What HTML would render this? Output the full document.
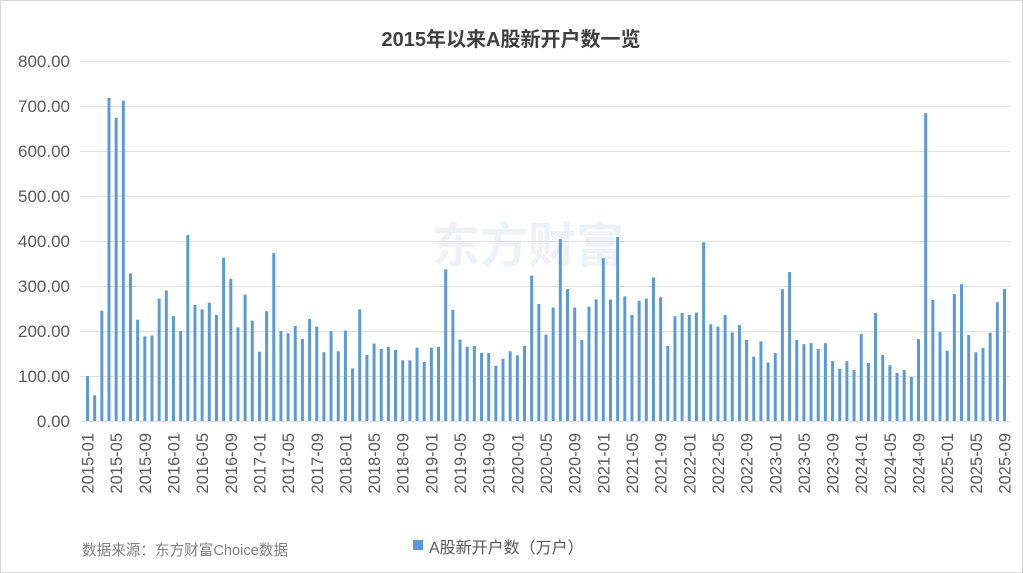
<!DOCTYPE html>
<html><head><meta charset="utf-8"><style>
html,body{margin:0;padding:0;background:#fff;}
svg{display:block;font-family:"Liberation Sans","Noto Sans CJK SC",sans-serif;}
</style></head><body>
<svg id="c" width="1023" height="573" viewBox="0 0 1023 573" xmlns="http://www.w3.org/2000/svg">
<rect x="0.5" y="0.5" width="1022" height="572" fill="#fff" stroke="#d9d9d9"/>
<text x="511" y="46" text-anchor="middle" font-size="20" font-weight="bold" fill="#404040">2015年以来A股新开户数一览</text>
<g fill="#eef2f6" font-size="48" font-weight="bold"><text x="432" y="262">东方财富</text></g>
<g id="grid" stroke="#e0e0e0" stroke-width="1"></g>
<g id="ylab" font-size="17" fill="#595959" text-anchor="end"></g>
<g id="bars" fill="#5b9bd5"></g>
<g id="xlab" font-size="16.5" fill="#595959"></g>
<rect x="413" y="540" width="10" height="10" fill="#5b9bd5"/>
<text x="429" y="553" font-size="16" fill="#595959">A股新开户数（万户）</text>
<text x="82" y="555" font-size="14.6" fill="#808080">数据来源：东方财富Choice数据</text>
</svg>
<script>
var v=[100,57,245,718,674,712,328,225,188,190,272,290,
233,200,413,258,248,263,236,363,316,208,281,223,
154,244,373,200,195,211,182,227,210,153,199,155,
201,117,248,147,172,160,165,158,135,135,163,131,
163,165,337,247,181,165,167,151,151,123,138,155,
146,167,323,260,192,252,404,293,252,180,254,270,
362,270,409,277,236,267,272,319,275,167,233,240,
236,241,397,215,210,236,197,213,180,143,177,130,
151,293,331,180,171,173,160,173,133,116,133,113,
193,129,240,147,124,107,113,98,182,684,269,198,
156,282,304,191,153,162,196,264,293];
var ns="http://www.w3.org/2000/svg";
function el(t,a,p,txt){var e=document.createElementNS(ns,t);for(var k in a)e.setAttribute(k,a[k]);if(txt)e.textContent=txt;document.querySelector(p).appendChild(e);}
for(var i=0;i<=8;i++){var y=421-i*45;el('line',{x1:80,x2:1010,y1:y+0.5,y2:y+0.5},'#grid');el('text',{x:70,y:y+6},'#ylab',(i*100).toFixed(2));}
var x0=87.5,dx=(1004.5-87.5)/128;
for(var i=0;i<v.length;i++){var x=x0+i*dx,h=v[i]*0.45;el('rect',{x:(x-1.5).toFixed(2),y:(421-h).toFixed(2),width:3,height:h.toFixed(2)},'#bars');
if(i%4==0){var yr=2015+Math.floor(i/12),m=i%12+1;var s=yr+'-'+(m<10?'0':'')+m;el('text',{x:0,y:0,transform:'translate('+(x+6)+',433) rotate(-90)','text-anchor':'end'},'#xlab',s);}}
</script>
</body></html>
